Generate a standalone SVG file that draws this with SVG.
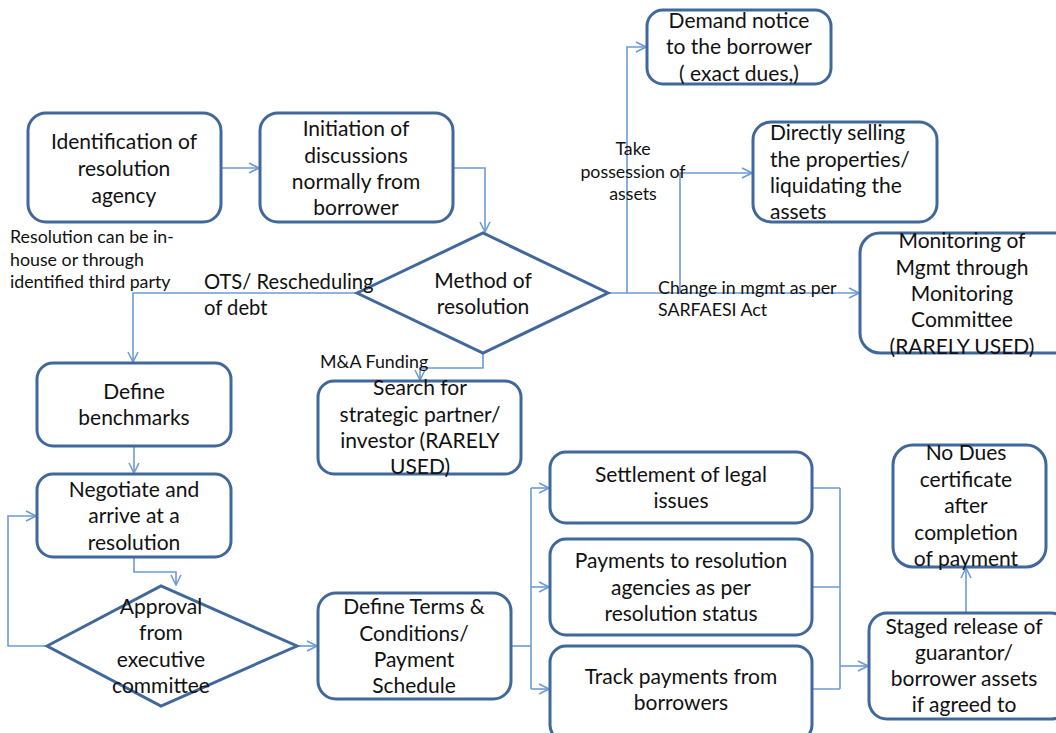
<svg xmlns="http://www.w3.org/2000/svg" width="1056" height="733" viewBox="0 0 1056 733">
  <style>
    .box { fill: #ffffff; stroke: #41689a; stroke-width: 3; }
    .t { font-family: Lato, "Liberation Sans", sans-serif; font-size: 21px; fill: #111; text-anchor: middle; }
    .tl { text-anchor: start; }
    .s { font-family: Lato, "Liberation Sans", sans-serif; font-size: 17.8px; fill: #111; }
    .m { font-family: Lato, "Liberation Sans", sans-serif; font-size: 20.2px; fill: #111; }
    .c { fill: none; stroke: #6e9bd5; stroke-width: 1.6; }
  </style>
  <defs>
    <marker id="arr" viewBox="0 0 12 12" refX="11" refY="6" markerWidth="12" markerHeight="12" markerUnits="userSpaceOnUse" orient="auto">
      <path d="M1,1 L11,6 L1,11" fill="none" stroke="#6e9bd5" stroke-width="1.6"/>
    </marker>
  </defs>
  <rect width="1056" height="733" fill="#ffffff"/>

  <!-- connectors -->
  <g id="connectors">
    <path class="c" d="M221,168 H259" marker-end="url(#arr)"/>
    <path class="c" d="M453,168 H485 V232" marker-end="url(#arr)"/>
    <path class="c" d="M357,293 H133 V362" marker-end="url(#arr)"/>
    <path class="c" d="M483,353 V368 H420 V380" marker-end="url(#arr)"/>
    <path class="c" d="M608,293 H859" marker-end="url(#arr)"/>
    <path class="c" d="M627,293 V47 H646" marker-end="url(#arr)"/>
    <path class="c" d="M680,293 V173 H752" marker-end="url(#arr)"/>
    <path class="c" d="M134,446 V473" marker-end="url(#arr)"/>
    <path class="c" d="M134,557 V572 H176 V585" marker-end="url(#arr)"/>
    <path class="c" d="M47,646 H8 V516 H36" marker-end="url(#arr)"/>
    <path class="c" d="M297,646 H317" marker-end="url(#arr)"/>
    <path class="c" d="M511,646 H531"/>
    <path class="c" d="M531,488 V689"/>
    <path class="c" d="M531,488 H549" marker-end="url(#arr)"/>
    <path class="c" d="M531,587 H549" marker-end="url(#arr)"/>
    <path class="c" d="M531,689 H549" marker-end="url(#arr)"/>
    <path class="c" d="M812,488 H840 M812,587 H840 M812,689 H840 M840,488 V689"/>
    <path class="c" d="M840,666 H868" marker-end="url(#arr)"/>
    <path class="c" d="M966,613 V568" marker-end="url(#arr)"/>
  </g>

  <g id="identification">
    <rect class="box" x="28" y="113" width="193" height="109" rx="18"/>
    <text class="t" x="124" y="149">Identification of</text>
    <text class="t" x="124" y="176">resolution</text>
    <text class="t" x="124" y="203">agency</text>
  </g>
  <g id="initiation">
    <rect class="box" x="260" y="113" width="193" height="109" rx="18"/>
    <text class="t" x="356" y="136">Initiation of</text>
    <text class="t" x="356" y="163">discussions</text>
    <text class="t" x="356" y="189">normally from</text>
    <text class="t" x="356" y="215">borrower</text>
  </g>
  <g id="method">
    <polygon class="box" points="357,293 483,233 608,293 483,353"/>
    <text class="t" x="483" y="288">Method of</text>
    <text class="t" x="483" y="314">resolution</text>
  </g>
  <g id="demand">
    <rect class="box" x="647" y="10" width="184" height="74" rx="16"/>
    <text class="t" x="739" y="28">Demand notice</text>
    <text class="t" x="739" y="54">to the borrower</text>
    <text class="t" x="739" y="81">( exact dues,)</text>
  </g>
  <g id="selling">
    <rect class="box" x="753" y="122" width="184" height="100" rx="18"/>
    <text class="t tl" x="770" y="140">Directly selling</text>
    <text class="t tl" x="770" y="167">the properties/</text>
    <text class="t tl" x="770" y="193">liquidating the</text>
    <text class="t tl" x="770" y="219">assets</text>
  </g>
  <g id="monitoring">
    <rect class="box" x="860" y="233" width="215" height="120" rx="20"/>
    <text class="t" x="962" y="248">Monitoring of</text>
    <text class="t" x="962" y="275">Mgmt through</text>
    <text class="t" x="962" y="301">Monitoring</text>
    <text class="t" x="962" y="327">Committee</text>
    <text class="t" x="962" y="354">(RARELY USED)</text>
  </g>
  <g id="benchmarks">
    <rect class="box" x="37" y="363" width="194" height="83" rx="16"/>
    <text class="t" x="134" y="399">Define</text>
    <text class="t" x="134" y="425">benchmarks</text>
  </g>
  <g id="partner">
    <rect class="box" x="318" y="381" width="203" height="93" rx="16"/>
    <text class="t" x="420" y="395">Search for</text>
    <text class="t" x="420" y="422">strategic partner/</text>
    <text class="t" x="420" y="448">investor (RARELY</text>
    <text class="t" x="420" y="474">USED)</text>
  </g>
  <g id="negotiate">
    <rect class="box" x="37" y="474" width="194" height="83" rx="16"/>
    <text class="t" x="134" y="497">Negotiate and</text>
    <text class="t" x="134" y="523">arrive at a</text>
    <text class="t" x="134" y="550">resolution</text>
  </g>
  <g id="approval">
    <polygon class="box" points="47,646 161,586 297,646 161,706"/>
    <text class="t" x="161" y="614">Approval</text>
    <text class="t" x="161" y="640">from</text>
    <text class="t" x="161" y="667">executive</text>
    <text class="t" x="161" y="693">committee</text>
  </g>
  <g id="terms">
    <rect class="box" x="318" y="593" width="193" height="106" rx="18"/>
    <text class="t" x="414" y="614">Define Terms &amp;</text>
    <text class="t" x="414" y="641">Conditions/</text>
    <text class="t" x="414" y="667">Payment</text>
    <text class="t" x="414" y="693">Schedule</text>
  </g>
  <g id="settlement">
    <rect class="box" x="550" y="452" width="262" height="71" rx="16"/>
    <text class="t" x="681" y="482">Settlement of legal</text>
    <text class="t" x="681" y="508">issues</text>
  </g>
  <g id="payments">
    <rect class="box" x="550" y="539" width="262" height="96" rx="16"/>
    <text class="t" x="681" y="568">Payments to resolution</text>
    <text class="t" x="681" y="595">agencies as per</text>
    <text class="t" x="681" y="621">resolution status</text>
  </g>
  <g id="track">
    <rect class="box" x="550" y="646" width="262" height="95" rx="16"/>
    <text class="t" x="681" y="684">Track payments from</text>
    <text class="t" x="681" y="710">borrowers</text>
  </g>
  <g id="nodues">
    <rect class="box" x="893" y="445" width="153" height="122" rx="20"/>
    <text class="t" x="966" y="460">No Dues</text>
    <text class="t" x="966" y="487">certificate</text>
    <text class="t" x="966" y="513">after</text>
    <text class="t" x="966" y="540">completion</text>
    <text class="t" x="966" y="566">of payment</text>
  </g>
  <g id="staged">
    <rect class="box" x="869" y="613" width="200" height="106" rx="18"/>
    <text class="t" x="964" y="634">Staged release of</text>
    <text class="t" x="964" y="660">guarantor/</text>
    <text class="t" x="964" y="686">borrower assets</text>
    <text class="t" x="964" y="712">if agreed to</text>
  </g>

  <!-- connector labels -->
  <g id="labels">
    <text class="s" x="10" y="243">Resolution can be in-</text>
    <text class="s" x="10" y="266">house or through</text>
    <text class="s" x="10" y="288">identified third party</text>
    <text class="m" x="204" y="289">OTS/ Rescheduling</text>
    <text class="m" x="204" y="315">of debt</text>
    <text class="s" x="320" y="368">M&amp;A Funding</text>
    <text class="s" x="633" y="155" text-anchor="middle">Take</text>
    <text class="s" x="633" y="178" text-anchor="middle">possession of</text>
    <text class="s" x="633" y="200" text-anchor="middle">assets</text>
    <text class="s" x="658" y="294">Change in mgmt as per</text>
    <text class="s" x="658" y="316">SARFAESI Act</text>
  </g>
</svg>
